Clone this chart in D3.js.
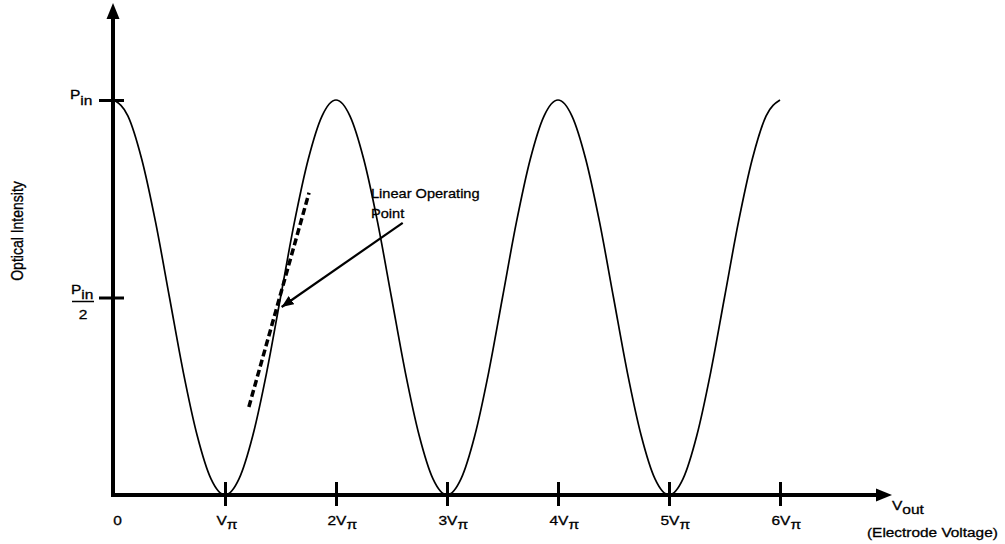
<!DOCTYPE html>
<html>
<head>
<meta charset="utf-8">
<script src="https://cdn.jsdelivr.net/npm/d3@7"></script>
<style>
  html, body { margin: 0; padding: 0; background: #fff; }
  svg { display: block; }
  text { font-family: "Liberation Sans", Arial, Helvetica, sans-serif; fill: #000; stroke: #000; stroke-width: 0.3; }
</style>
</head>
<body>
<svg id="chart" width="1005" height="544"></svg>
<script>
// Electrode voltage, in units of Vπ
const voltage = [
  0, 0.125, 0.25, 0.375, 0.5, 0.625, 0.75, 0.875,
  1, 1.125, 1.25, 1.375, 1.5, 1.625, 1.75, 1.875,
  2, 2.125, 2.25, 2.375, 2.5, 2.625, 2.75, 2.875,
  3, 3.125, 3.25, 3.375, 3.5, 3.625, 3.75, 3.875,
  4, 4.125, 4.25, 4.375, 4.5, 4.625, 4.75, 4.875,
  5, 5.125, 5.25, 5.375, 5.5, 5.625, 5.75, 5.875,
  6
];
// Optical output intensity, as a fraction of Pin
const intensity = [
  1, 0.96, 0.85, 0.69, 0.5, 0.31, 0.15, 0.04,
  0, 0.04, 0.15, 0.31, 0.5, 0.69, 0.85, 0.96,
  1, 0.96, 0.85, 0.69, 0.5, 0.31, 0.15, 0.04,
  0, 0.04, 0.15, 0.31, 0.5, 0.69, 0.85, 0.96,
  1, 0.96, 0.85, 0.69, 0.5, 0.31, 0.15, 0.04,
  0, 0.04, 0.15, 0.31, 0.5, 0.69, 0.85, 0.96,
  1
];

// Axis ticks: [main text, subscript]
const xTickValues = [0, 1, 2, 3, 4, 5, 6];
const xTickLabels = [["0", ""], ["V", "π"], ["2V", "π"], ["3V", "π"], ["4V", "π"], ["5V", "π"], ["6V", "π"]];
const yTickValues = [1, 0.5];

// Dashed tangent through the quadrature (linear operating) point
const tangentV = [1.215, 1.757];
const tangentI = [0.223, 0.765];
// Callout arrow: from the label towards the operating point
const calloutV = [2.601, 1.51];
const calloutI = [0.689, 0.476];
const calloutText = ["Linear Operating", "Point"];

const svg = d3.select("#chart");
const x = d3.scaleLinear().domain([0, 6]).range([114, 780]);
const y = d3.scaleLinear().domain([0, 1]).range([495, 100]);

const axisX = x(0) - 1;      // vertical axis position
const axisY = y(0);          // horizontal axis position
const sx = 1.15;             // horizontal stretch of the lettering
const fs = 13.5;             // label font size

// Arrow marker for the callout
svg.append("defs").append("marker")
  .attr("id", "head")
  .attr("viewBox", "0 0 12 10")
  .attr("refX", 12).attr("refY", 5)
  .attr("markerWidth", 12).attr("markerHeight", 10)
  .attr("markerUnits", "userSpaceOnUse")
  .attr("orient", "auto")
  .append("path").attr("d", "M0,0 L12,5 L0,10 Z").attr("fill", "#000");

// Response curve
const line = d3.line()
  .x((d, i) => x(voltage[i]))
  .y(d => y(d))
  .curve(d3.curveMonotoneX);
svg.append("path")
  .attr("d", line(intensity))
  .attr("fill", "none")
  .attr("stroke", "#000")
  .attr("stroke-width", 1.7);

// Bottom axis with ticks
const gx = svg.append("g")
  .attr("transform", `translate(0,${axisY})`)
  .call(d3.axisBottom(x).tickValues(xTickValues).tickSizeOuter(0).tickFormat(""));
gx.select(".domain").remove();
gx.selectAll(".tick line")
  .attr("y1", -13).attr("y2", 11)
  .attr("stroke", "#000").attr("stroke-width", 3);
gx.selectAll(".tick").filter(d => d === 0).select("line").remove();
gx.selectAll(".tick").each(function (d, i) {
  const lab = xTickLabels[i];
  const t = d3.select(this).append("text")
    .attr("font-size", fs)
    .attr("text-anchor", d === 0 ? "middle" : "start")
    .attr("transform", d === 0 ? `translate(3,30) scale(${sx},1)` : `translate(-9,30) scale(${sx},1)`);
  t.append("tspan").text(lab[0]);
  if (lab[1]) t.append("tspan").attr("dy", 3.5).text(lab[1]);
});

// Left axis with ticks
const gy = svg.append("g")
  .attr("transform", `translate(${axisX},0)`)
  .call(d3.axisLeft(y).tickValues(yTickValues).tickSizeOuter(0).tickFormat(""));
gy.select(".domain").remove();
gy.selectAll(".tick line")
  .attr("x1", -14).attr("x2", 11)
  .attr("stroke", "#000").attr("stroke-width", 3);

// Pin label
const pin = svg.append("text").attr("font-size", fs)
  .attr("transform", `translate(${axisX - 43},${y(1) - 1}) scale(${sx},1)`);
pin.append("tspan").text("P");
pin.append("tspan").attr("dy", 6).text("in");

// Pin / 2 label
const half = svg.append("g").attr("transform", `translate(${axisX - 42},${y(0.5)})`);
const hp = half.append("text").attr("font-size", fs)
  .attr("transform", `translate(0,-4) scale(${sx},1)`);
hp.append("tspan").text("P");
hp.append("tspan").attr("dy", 5).text("in");
half.append("line").attr("x1", 1).attr("x2", 23).attr("y1", 4).attr("y2", 4)
  .attr("stroke", "#000").attr("stroke-width", 1.5);
half.append("text").attr("font-size", fs).attr("text-anchor", "middle")
  .attr("transform", `translate(12,21) scale(${sx},1)`).text("2");

// Axis lines with arrowheads
const xEnd = 892, yTop = 3;
svg.append("line")
  .attr("x1", axisX - 2).attr("x2", xEnd - 14).attr("y1", axisY).attr("y2", axisY)
  .attr("stroke", "#000").attr("stroke-width", 4);
svg.append("path")
  .attr("d", `M${xEnd},${axisY} L${xEnd - 16},${axisY - 6.5} L${xEnd - 16},${axisY + 6.5} Z`)
  .attr("fill", "#000");
svg.append("line")
  .attr("x1", axisX).attr("x2", axisX).attr("y1", axisY + 2).attr("y2", yTop + 14)
  .attr("stroke", "#000").attr("stroke-width", 4);
svg.append("path")
  .attr("d", `M${axisX},${yTop} L${axisX - 6.5},${yTop + 16} L${axisX + 6.5},${yTop + 16} Z`)
  .attr("fill", "#000");

// Axis titles
const vout = svg.append("text").attr("font-size", fs)
  .attr("transform", `translate(${xEnd},510) scale(${sx},1)`);
vout.append("tspan").text("V");
vout.append("tspan").attr("dy", 4).text("out");
svg.append("text").attr("font-size", fs)
  .attr("transform", `translate(867,537) scale(1.14,1)`)
  .text("(Electrode Voltage)");
svg.append("text").attr("font-size", 14).attr("text-anchor", "middle")
  .attr("transform", `translate(23,231) rotate(-90) scale(1,${sx})`)
  .text("Optical Intensity");

// Dashed tangent at the linear operating point
svg.append("line")
  .attr("x1", x(tangentV[0])).attr("y1", y(tangentI[0]))
  .attr("x2", x(tangentV[1])).attr("y2", y(tangentI[1]))
  .attr("stroke", "#000").attr("stroke-width", 3.5)
  .attr("stroke-dasharray", "7,3.5");

// Callout arrow and its label
svg.append("line")
  .attr("x1", x(calloutV[0])).attr("y1", y(calloutI[0]))
  .attr("x2", x(calloutV[1])).attr("y2", y(calloutI[1]))
  .attr("stroke", "#000").attr("stroke-width", 2.2)
  .attr("marker-end", "url(#head)");
calloutText.forEach((s, i) => {
  svg.append("text").attr("font-size", fs)
    .attr("transform", `translate(371,${198 + i * 20}) scale(1.08,1)`)
    .text(s);
});
</script>
</body>
</html>
